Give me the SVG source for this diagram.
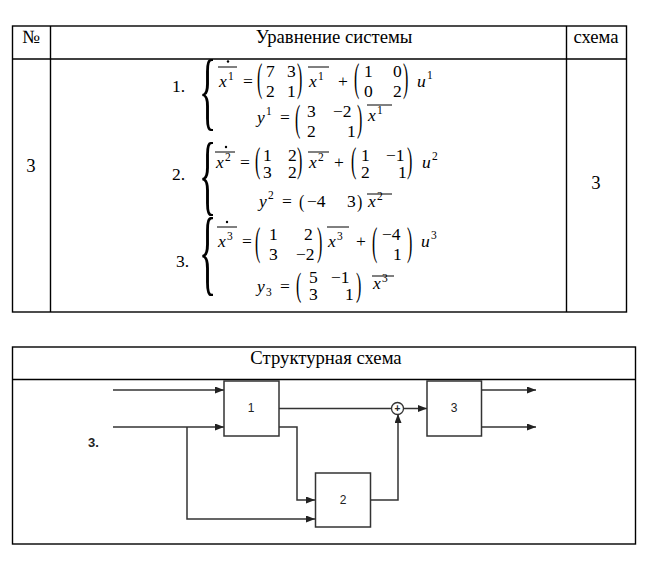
<svg xmlns="http://www.w3.org/2000/svg" width="666" height="566" viewBox="0 0 666 566">
<style>
.t{font-family:"Liberation Serif","Times New Roman",serif;font-size:18.7px;fill:#000}
.m{font-family:"Liberation Serif","Times New Roman",serif;font-size:17.5px;fill:#000}
.i{font-style:italic}
.s{font-size:11.5px}
.d{font-family:"Liberation Serif","Times New Roman",serif;font-size:16px;fill:#000}
.b{font-family:"Liberation Serif","Times New Roman",serif;font-size:36px;fill:#000}
.ov{stroke:#000;stroke-width:1}
.grid{fill:none;stroke:#000;stroke-width:1.4}
.blk{fill:#fff;stroke:#333;stroke-width:1.5}
.w{fill:none;stroke:#333;stroke-width:1.5}
.lab{font-family:"Liberation Sans",Arial,sans-serif;font-size:12px;fill:#222;text-anchor:middle}
</style>
<defs>
<marker id="ah" markerUnits="userSpaceOnUse" markerWidth="9" markerHeight="7" refX="9" refY="3.5" orient="auto">
<path d="M0,0 L9,3.5 L0,7 z" fill="#222"/>
</marker>
</defs>
<rect width="666" height="566" fill="#fff"/>

<g id="table1">
<rect class="grid" x="12.5" y="26" width="614" height="286"/>
<line class="grid" x1="50.5" y1="26" x2="50.5" y2="312"/>
<line class="grid" x1="566.5" y1="26" x2="566.5" y2="312"/>
<line class="grid" x1="12.5" y1="59" x2="626.5" y2="59"/>
<text class="t" x="31" y="43" text-anchor="middle">№</text>
<text class="t" x="334" y="43" text-anchor="middle">Уравнение системы</text>
<text class="t" x="596" y="43" text-anchor="middle">схема</text>
<text class="t" x="31" y="172" text-anchor="middle">3</text>
<text class="t" x="596" y="189" text-anchor="middle">3</text>
</g>

<g id="eq1">
<text class="m" x="172" y="92">1.</text>
<text class="b" transform="translate(199,119.3) scale(1,2.43)">{</text>
<text class="m i" x="219" y="87">x</text><text class="m s" x="228" y="80">1</text>
<line class="ov" x1="218" y1="67" x2="237" y2="67"/><circle cx="228" cy="61.5" r="1.2"/>
<text class="m" x="243" y="87">=</text>
<text class="d" transform="translate(257,90.7) scale(1,2.52)">(</text>
<text class="m" x="266" y="77">7</text><text class="m" x="287" y="77">3</text>
<text class="m" x="266" y="97">2</text><text class="m" x="287" y="97">1</text>
<text class="d" transform="translate(297,90.7) scale(1,2.52)">)</text>
<text class="m i" x="309" y="87">x</text><text class="m s" x="318" y="80">1</text>
<line class="ov" x1="308" y1="67" x2="329" y2="67"/>
<text class="m" x="338" y="87">+</text>
<text class="d" transform="translate(354,90.7) scale(1,2.52)">(</text>
<text class="m" x="364" y="77">1</text><text class="m" x="393" y="77">0</text>
<text class="m" x="364" y="97">0</text><text class="m" x="393" y="97">2</text>
<text class="d" transform="translate(403,90.7) scale(1,2.52)">)</text>
<text class="m i" x="417" y="87">u</text><text class="m s" x="427" y="79">1</text>
<text class="m i" x="257" y="123">y</text><text class="m s" x="266" y="115">1</text>
<text class="m" x="280" y="123">=</text>
<text class="d" transform="translate(295,131.1) scale(1,2.37)">(</text>
<text class="m" x="307" y="117">3</text><text class="m" x="333" y="117">−2</text>
<text class="m" x="307" y="137">2</text><text class="m" x="347" y="137">1</text>
<text class="d" transform="translate(357,131.1) scale(1,2.37)">)</text>
<text class="m i" x="368" y="121">x</text><text class="m s" x="377" y="114">1</text>
<line class="ov" x1="367" y1="105" x2="392" y2="105"/>
</g>

<g id="eq2">
<text class="m" x="172" y="180">2.</text>
<text class="b" transform="translate(199,204.1) scale(1,2.46)">{</text>
<text class="m i" x="216" y="168">x</text><text class="m s" x="225" y="161">2</text>
<line class="ov" x1="215" y1="152" x2="235" y2="152"/><circle cx="226" cy="147" r="1.2"/>
<text class="m" x="240" y="168">=</text>
<text class="d" transform="translate(255,171.5) scale(1,2.23)">(</text>
<text class="m" x="263" y="161">1</text><text class="m" x="288" y="161">2</text>
<text class="m" x="263" y="178">3</text><text class="m" x="288" y="178">2</text>
<text class="d" transform="translate(297,171.5) scale(1,2.23)">)</text>
<text class="m i" x="309" y="168">x</text><text class="m s" x="318" y="161">2</text>
<line class="ov" x1="308" y1="152" x2="329" y2="152"/>
<text class="m" x="334" y="168">+</text>
<text class="d" transform="translate(351,171.5) scale(1,2.23)">(</text>
<text class="m" x="361" y="161">1</text><text class="m" x="386" y="161">−1</text>
<text class="m" x="361" y="178">2</text><text class="m" x="398" y="178">1</text>
<text class="d" transform="translate(407,171.5) scale(1,2.23)">)</text>
<text class="m i" x="422" y="168">u</text><text class="m s" x="432" y="160">2</text>
<text class="m i" x="259" y="207">y</text><text class="m s" x="268" y="199">2</text>
<text class="m" x="282" y="207">=</text>
<text class="d" transform="translate(299,207.7) scale(1,1.15)">(</text>
<text class="m" x="307" y="207">−4</text><text class="m" x="347" y="207">3</text>
<text class="d" transform="translate(357,207.7) scale(1,1.15)">)</text>
<text class="m i" x="368" y="207">x</text><text class="m s" x="377" y="200">2</text>
<line class="ov" x1="367" y1="194" x2="392" y2="194"/>
</g>

<g id="eq3">
<text class="m" x="176" y="267">3.</text>
<text class="b" transform="translate(199,283) scale(1,2.62)">{</text>
<text class="m i" x="218" y="247">x</text><text class="m s" x="227" y="240">3</text>
<line class="ov" x1="217" y1="227" x2="237" y2="227"/><circle cx="227" cy="222" r="1.2"/>
<text class="m" x="242" y="247">=</text>
<text class="d" transform="translate(255,254.7) scale(1,2.52)">(</text>
<text class="m" x="269" y="240">1</text><text class="m" x="304" y="240">2</text>
<text class="m" x="269" y="260">3</text><text class="m" x="296" y="260">−2</text>
<text class="d" transform="translate(317,254.7) scale(1,2.52)">)</text>
<text class="m i" x="328" y="247">x</text><text class="m s" x="337" y="240">3</text>
<line class="ov" x1="327" y1="227" x2="349" y2="227"/>
<text class="m" x="356" y="247">+</text>
<text class="d" transform="translate(372,254.7) scale(1,2.52)">(</text>
<text class="m" x="382" y="240">−4</text>
<text class="m" x="393" y="260">1</text>
<text class="d" transform="translate(407,254.7) scale(1,2.52)">)</text>
<text class="m i" x="421" y="247">u</text><text class="m s" x="431" y="239">3</text>
<text class="m i" x="257" y="292">y</text><text class="m s" x="266" y="296">3</text>
<text class="m" x="280" y="292">=</text>
<text class="d" transform="translate(296,295.7) scale(1,2.16)">(</text>
<text class="m" x="309" y="283">5</text><text class="m" x="331" y="283">−1</text>
<text class="m" x="309" y="300">3</text><text class="m" x="345" y="300">1</text>
<text class="d" transform="translate(356,295.7) scale(1,2.16)">)</text>
<text class="m i" x="373" y="289">x</text><text class="m s" x="382" y="282">3</text>
<line class="ov" x1="372" y1="276" x2="394" y2="276"/>
</g>

<g id="table2">
<rect class="grid" x="12.5" y="347" width="623" height="197"/>
<line class="grid" x1="12.5" y1="379.5" x2="635.5" y2="379.5"/>
<text class="t" x="326" y="364" text-anchor="middle">Структурная схема</text>
<text x="88" y="447" font-family="Liberation Sans,Arial,sans-serif" font-size="13px" font-weight="bold" fill="#222">3.</text>
</g>

<g id="connectors">
<path class="w" d="M113,390 H224" marker-end="url(#ah)"/>
<path class="w" d="M113,427 H224" marker-end="url(#ah)"/>
<path class="w" d="M187,427 V519 H315" marker-end="url(#ah)"/>
<path class="w" d="M279,408.5 H391.5"/>
<path class="w" d="M279,427 H297 V500 H315" marker-end="url(#ah)"/>
<path class="w" d="M371,500 H398 V414" marker-end="url(#ah)"/>
<path class="w" d="M403.5,408.5 H427" marker-end="url(#ah)"/>
<path class="w" d="M481,390 H536" marker-end="url(#ah)"/>
<path class="w" d="M481,427 H536" marker-end="url(#ah)"/>
</g>

<g id="block1">
<rect class="blk" x="224" y="381" width="55" height="55"/>
<text class="lab" x="251" y="412">1</text>
</g>
<g id="block2">
<rect class="blk" x="315.5" y="473" width="55" height="54"/>
<text class="lab" x="343" y="504">2</text>
</g>
<g id="block3">
<rect class="blk" x="427" y="381" width="54.5" height="55"/>
<text class="lab" x="454" y="412">3</text>
</g>
<g id="sum">
<circle cx="397.5" cy="408.5" r="6" fill="#fff" stroke="#333" stroke-width="1.3"/>
<text x="397.5" y="412" font-family="Liberation Sans,Arial,sans-serif" font-size="10px" font-weight="bold" fill="#222" text-anchor="middle">+</text>
</g>
</svg>
